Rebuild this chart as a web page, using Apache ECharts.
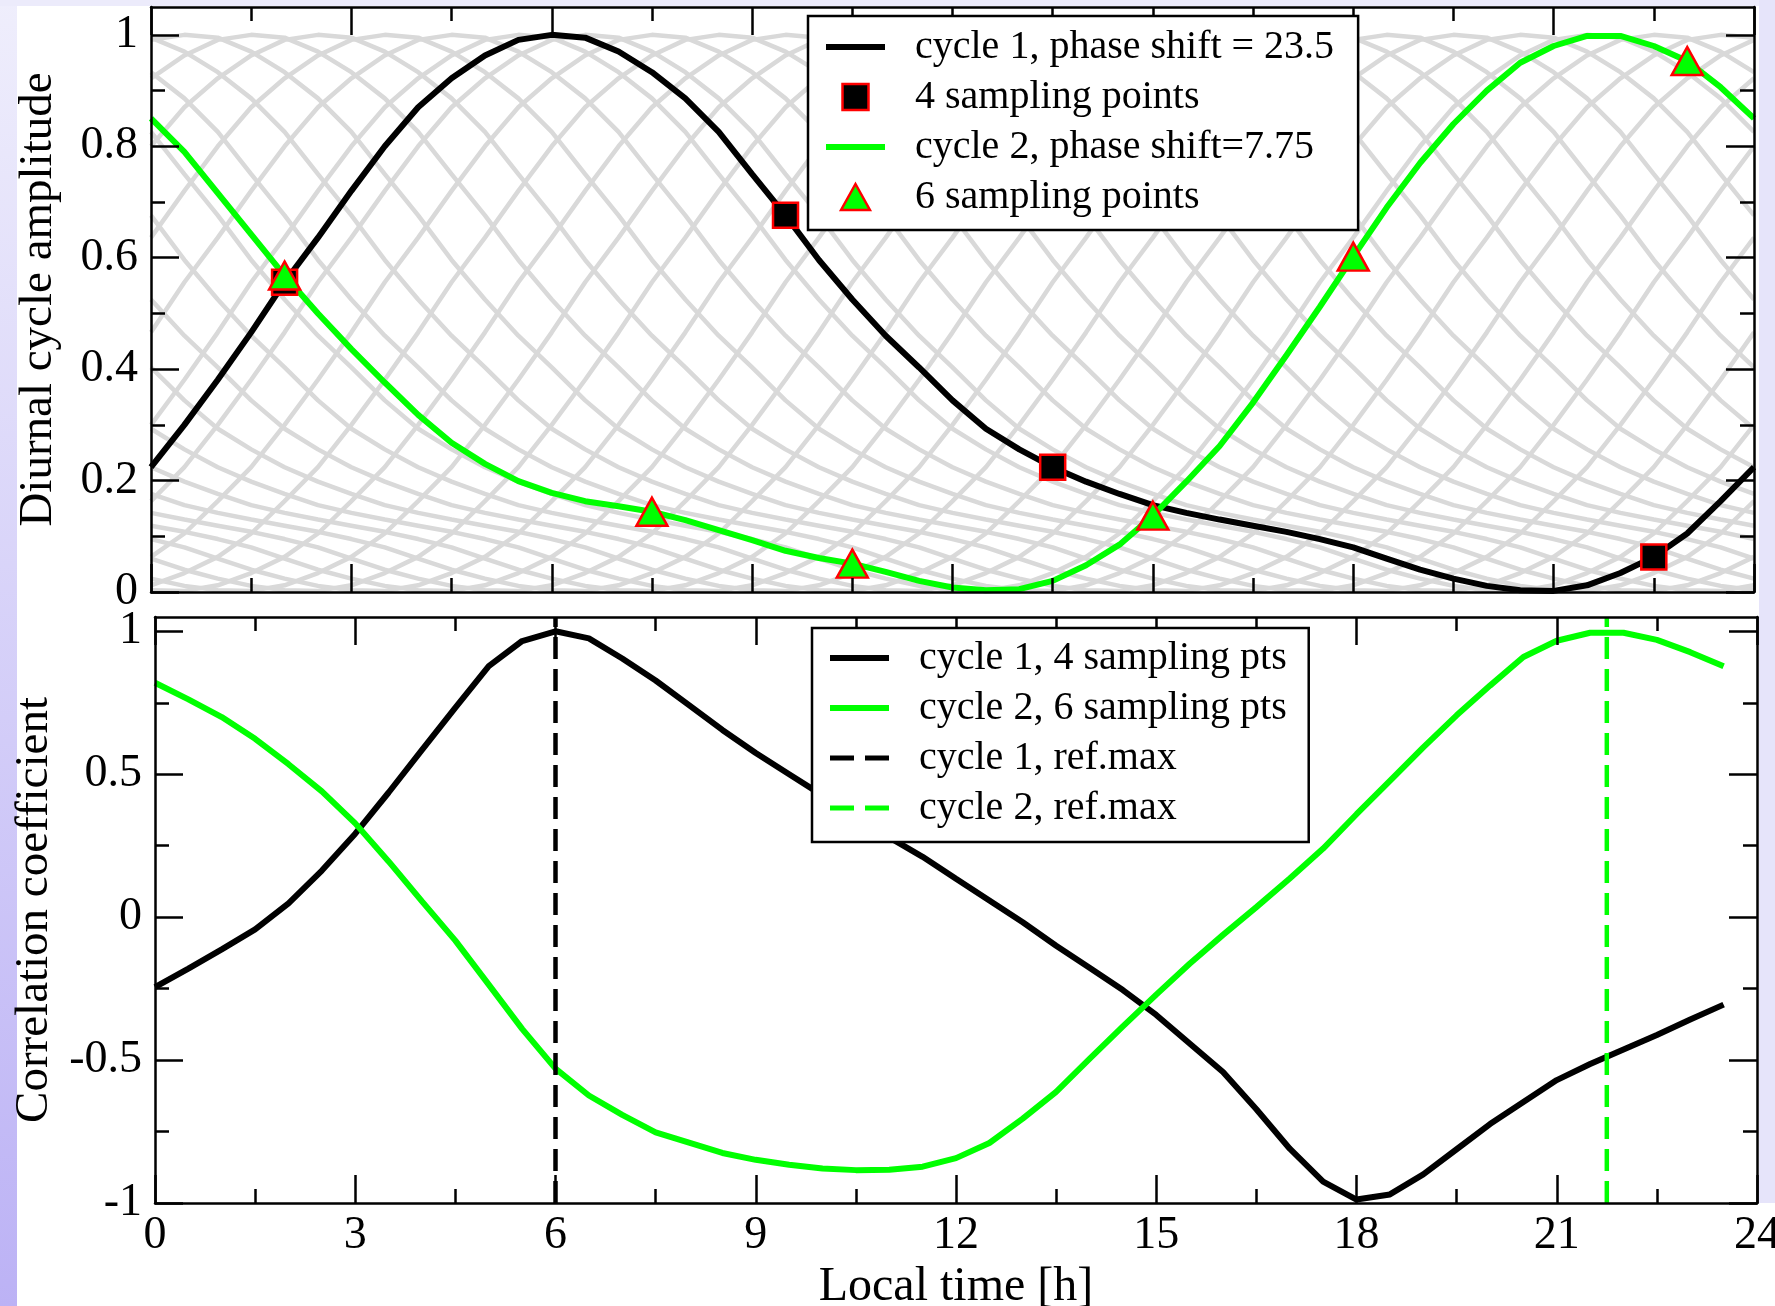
<!DOCTYPE html>
<html>
<head>
<meta charset="utf-8">
<script src="https://cdn.jsdelivr.net/npm/echarts@6/dist/echarts.min.js"></script>
<style>
  html, body { margin: 0; padding: 0; background: #fff; }
  #chart { width: 1775px; height: 1306px; }
</style>
</head>
<body>
<div id="chart"></div>
<script>
// Local time of the diurnal cycle, half-hour resolution
const hours = [0, 0.5, 1, 1.5, 2, 2.5, 3, 3.5, 4, 4.5, 5, 5.5, 6, 6.5, 7, 7.5, 8, 8.5, 9, 9.5,
  10, 10.5, 11, 11.5, 12, 12.5, 13, 13.5, 14, 14.5, 15, 15.5, 16, 16.5, 17, 17.5, 18, 18.5, 19, 19.5,
  20, 20.5, 21, 21.5, 22, 22.5, 23, 23.5, 24];

// Normalised amplitude of cycle 1 (phase shift 23.5)
const amp1 = [0.224, 0.300, 0.381, 0.466, 0.556, 0.636, 0.720, 0.800, 0.870, 0.922, 0.963, 0.991,
  1.000, 0.995, 0.970, 0.933, 0.886, 0.826, 0.750, 0.676, 0.596, 0.525, 0.460, 0.403, 0.344, 0.293,
  0.256, 0.224, 0.198, 0.176, 0.156, 0.142, 0.130, 0.119, 0.108, 0.095, 0.080, 0.060, 0.040, 0.024,
  0.011, 0.003, 0.002, 0.012, 0.034, 0.063, 0.105, 0.163, 0.224];

// Normalised amplitude of cycle 2 (phase shift 7.75)
const amp2 = [0.850, 0.790, 0.716, 0.642, 0.568, 0.500, 0.436, 0.376, 0.318, 0.268, 0.230, 0.199,
  0.178, 0.163, 0.154, 0.144, 0.129, 0.111, 0.093, 0.074, 0.061, 0.051, 0.036, 0.020, 0.008, 0.003,
  0.005, 0.020, 0.048, 0.085, 0.137, 0.198, 0.262, 0.340, 0.425, 0.512, 0.602, 0.690, 0.770, 0.840,
  0.900, 0.950, 0.980, 0.998, 0.998, 0.980, 0.953, 0.906, 0.850];

// Sampling times (local hour) of the two observing schemes
const sample4Hours = [2, 9.5, 13.5, 22.5];
const sample6Hours = [2, 7.5, 10.5, 15, 18, 23];

// Phase offsets (h) of the background family of cycle-1 shapes
const meshShifts = [0.5, 1.5, 2.5, 3.5, 4.5, 5.5, 6.5, 7.5, 8.5, 9.5, 10.5, 11.5,
  12.5, 13.5, 14.5, 15.5, 16.5, 17.5, 18.5, 19.5, 20.5, 21.5, 22.5, 23.5];

// Correlation of the sampled cycles with the reference, per local-time offset
const corrHours = [0, 0.5, 1, 1.5, 2, 2.5, 3, 3.5, 4, 4.5, 5, 5.5, 6, 6.5, 7, 7.5, 8, 8.5, 9, 9.5,
  10, 10.5, 11, 11.5, 12, 12.5, 13, 13.5, 14, 14.5, 15, 15.5, 16, 16.5, 17, 17.5, 18, 18.5, 19, 19.5,
  20, 20.5, 21, 21.5, 22, 22.5, 23, 23.5];
const corr1 = [-0.245, -0.180, -0.113, -0.043, 0.048, 0.163, 0.292, 0.436, 0.585, 0.733, 0.878, 0.966,
  1.000, 0.975, 0.905, 0.828, 0.742, 0.655, 0.574, 0.500, 0.426, 0.353, 0.279, 0.211, 0.134, 0.058,
  -0.018, -0.100, -0.177, -0.255, -0.342, -0.442, -0.542, -0.672, -0.810, -0.925, -0.988, -0.970,
  -0.900, -0.812, -0.724, -0.647, -0.570, -0.514, -0.463, -0.412, -0.358, -0.306];
const corr2 = [0.820, 0.762, 0.700, 0.624, 0.535, 0.440, 0.328, 0.195, 0.055, -0.082, -0.236, -0.391,
  -0.530, -0.624, -0.692, -0.753, -0.789, -0.825, -0.849, -0.866, -0.879, -0.885, -0.884, -0.873,
  -0.843, -0.790, -0.705, -0.611, -0.496, -0.382, -0.271, -0.163, -0.062, 0.035, 0.135, 0.240,
  0.360, 0.477, 0.594, 0.706, 0.810, 0.910, 0.967, 0.995, 0.995, 0.970, 0.927, 0.878];

// Times of the reference maxima
const refMax1 = 6;
const refMax2 = 21.75;

// Tick positions
const timeTicks = [0, 3, 6, 9, 12, 15, 18, 21, 24];
const timeMinorTicks = [1.5, 4.5, 7.5, 10.5, 13.5, 16.5, 19.5, 22.5];
const ampTicks = [0, 0.2, 0.4, 0.6, 0.8, 1];
const ampMinorTicks = [0.1, 0.3, 0.5, 0.7, 0.9];
const corrTicks = [-1, -0.5, 0, 0.5, 1];
const corrMinorTicks = [-0.75, -0.25, 0.25, 0.75];

const FONT = '"Liberation Serif", "Times New Roman", serif';
const GREEN = '#00ff00';
const RED = '#ff0000';
const frameLine = { color: '#000', width: 2.5 };

function pairs(xs, ys) { return xs.map((x, i) => [x, ys[i]]); }
function pick(xs, ys, at) { return at.map(h => [h, ys[xs.indexOf(h)]]); }

// One framed edge of a panel: axis line plus inward ticks
function edge(grid, position, range, ticks, len, showLine, extra) {
  return Object.assign({
    type: 'value', gridIndex: grid, position: position, min: range[0], max: range[1],
    axisLine: { show: showLine, onZero: false, lineStyle: frameLine },
    axisTick: { show: true, inside: true, length: len, customValues: ticks, lineStyle: frameLine },
    axisLabel: { show: false },
    splitLine: { show: false },
    minorTick: { show: false },
    z: 5, silent: true
  }, extra || {});
}

const TIME = [0, 24];
const AMP = [0, 1.05];
const CORR = [-1, 1.05];
const MAJ = 28, MIN = 14;
const labelStyle = { fontSize: 46, fontFamily: FONT, color: '#000' };
const nameStyle = { fontSize: 47, fontFamily: FONT, color: '#000' };

const xAxes = [
  edge(0, 'bottom', TIME, timeTicks, MAJ, true),
  edge(0, 'bottom', TIME, timeMinorTicks, MIN, false),
  edge(0, 'top', TIME, timeTicks, MAJ, true),
  edge(0, 'top', TIME, timeMinorTicks, MIN, false),
  edge(1, 'bottom', TIME, timeTicks, MAJ, true, {
    axisLabel: Object.assign({ show: true, customValues: timeTicks, margin: 10 }, labelStyle),
    name: 'Local time [h]', nameLocation: 'middle', nameGap: 60,
    nameTextStyle: Object.assign({}, nameStyle, { fontSize: 48 })
  }),
  edge(1, 'bottom', TIME, timeMinorTicks, MIN, false),
  edge(1, 'top', TIME, timeTicks, MAJ, true),
  edge(1, 'top', TIME, timeMinorTicks, MIN, false)
];

const yAxes = [
  edge(0, 'left', AMP, ampTicks, MAJ, true, {
    axisLabel: Object.assign({ show: true, customValues: ampTicks, margin: 13 }, labelStyle),
    name: 'Diurnal cycle amplitude', nameLocation: 'middle', nameGap: 89, nameTextStyle: nameStyle
  }),
  edge(0, 'left', AMP, ampMinorTicks, MIN, false),
  edge(0, 'right', AMP, ampTicks, MAJ, true),
  edge(0, 'right', AMP, ampMinorTicks, MIN, false),
  edge(1, 'left', CORR, corrTicks, MAJ, true, {
    axisLabel: Object.assign({ show: true, customValues: corrTicks, margin: 13 }, labelStyle),
    name: 'Correlation coefficient', nameLocation: 'middle', nameGap: 91, nameTextStyle: nameStyle
  }),
  edge(1, 'left', CORR, corrMinorTicks, MIN, false),
  edge(1, 'right', CORR, corrTicks, MAJ, true),
  edge(1, 'right', CORR, corrMinorTicks, MIN, false)
];

// Background family: cycle 1 shape moved around the day (half-hour samples per step)
const meshSeries = meshShifts.map(s => ({
  type: 'line', xAxisIndex: 0, yAxisIndex: 0,
  data: hours.map((h, i) => [h, amp1[((i - 2 * s) % 48 + 48) % 48]]),
  symbol: 'none', silent: true, z: 1,
  lineStyle: { color: '#d9d9d9', width: 4.5 },
  itemStyle: { color: '#d9d9d9' }
}));

const lineIcon = 'path://M0,0H59V6H0Z';
const dashIcon = 'path://M0,0H24V5H0Z M35,0H59V5H35Z';
const squareIcon = 'path://M0,0H10V10H0Z';
const triangleIcon = 'path://M5,0L10,9L0,9Z';

const legendText = {
  fontSize: 40, fontFamily: FONT, color: '#000', lineHeight: 50, padding: [0, 0, 0, 25]
};
const legendBox = {
  orient: 'vertical', itemWidth: 59, itemHeight: 26, itemGap: 0,
  backgroundColor: '#fff', borderColor: '#000', borderWidth: 2.5,
  selectedMode: false, z: 10, textStyle: legendText
};
const solidKey = c => ({ color: c, borderWidth: 0, opacity: 1 });
const markKey = c => ({ color: c, borderColor: RED, borderWidth: 2.5, opacity: 1 });

const option = {
  animation: false,
  backgroundColor: '#fff',
  grid: [
    { left: 151, right: 21, top: 7, height: 585, outerBoundsMode: 'none', containLabel: false },
    { left: 155, right: 18, top: 617, height: 586, outerBoundsMode: 'none', containLabel: false }
  ],
  xAxis: xAxes,
  yAxis: yAxes,
  legend: [
    Object.assign({}, legendBox, {
      left: 808, top: 16, padding: [6, 24, 8, 18],
      data: [
        { name: 'cycle 1, phase shift = 23.5', icon: lineIcon, itemStyle: solidKey('#000') },
        { name: '4 sampling points', icon: squareIcon, itemStyle: markKey('#000') },
        { name: 'cycle 2, phase shift=7.75', icon: lineIcon, itemStyle: solidKey(GREEN) },
        { name: '6 sampling points', icon: triangleIcon, itemStyle: markKey(GREEN) }
      ]
    }),
    Object.assign({}, legendBox, {
      left: 812, top: 628, padding: [5, 22, 9, 18],
      data: [
        { name: 'cycle 1, 4 sampling pts', icon: lineIcon, itemStyle: solidKey('#000') },
        { name: 'cycle 2, 6 sampling pts', icon: lineIcon, itemStyle: solidKey(GREEN) },
        { name: 'cycle 1, ref.max', icon: dashIcon, itemStyle: solidKey('#000') },
        { name: 'cycle 2, ref.max', icon: dashIcon, itemStyle: solidKey(GREEN) }
      ]
    })
  ],
  graphic: [
    { type: 'rect', silent: true, z: -10,
      shape: { x: 0, y: 0, width: 17, height: 1306 },
      style: { fill: new echarts.graphic.LinearGradient(0, 0, 0, 1, [
        { offset: 0, color: '#efeefc' }, { offset: 1, color: '#bcb2f5' }]) } },
    { type: 'rect', silent: true, z: -10,
      shape: { x: 0, y: 0, width: 1775, height: 6 },
      style: { fill: '#ecebfb' } },
    { type: 'rect', silent: true, z: -10,
      shape: { x: 1759, y: 0, width: 16, height: 1203 },
      style: { fill: '#e6e4fa' } }
  ],
  series: meshSeries.concat([
    {
      name: 'cycle 1, phase shift = 23.5', type: 'line', xAxisIndex: 0, yAxisIndex: 0,
      data: pairs(hours, amp1), symbol: 'none', z: 3,
      lineStyle: { color: '#000', width: 6 }, itemStyle: { color: '#000' }
    },
    {
      name: 'cycle 2, phase shift=7.75', type: 'line', xAxisIndex: 0, yAxisIndex: 0,
      data: pairs(hours, amp2), symbol: 'none', z: 3,
      lineStyle: { color: GREEN, width: 6 }, itemStyle: { color: GREEN }
    },
    {
      name: '4 sampling points', type: 'scatter', xAxisIndex: 0, yAxisIndex: 0,
      data: pick(hours, amp1, sample4Hours), symbol: 'rect', symbolSize: 25, z: 4,
      itemStyle: { color: '#000', borderColor: RED, borderWidth: 2.5, opacity: 1 }
    },
    {
      name: '6 sampling points', type: 'scatter', xAxisIndex: 0, yAxisIndex: 0,
      data: pick(hours, amp2, sample6Hours), symbol: 'triangle', symbolSize: [31, 28], z: 4,
      itemStyle: { color: GREEN, borderColor: RED, borderWidth: 2.5, opacity: 1 }
    },
    {
      name: 'cycle 1, 4 sampling pts', type: 'line', xAxisIndex: 4, yAxisIndex: 4,
      data: pairs(corrHours, corr1), symbol: 'none', z: 3,
      lineStyle: { color: '#000', width: 6 }, itemStyle: { color: '#000' }
    },
    {
      name: 'cycle 2, 6 sampling pts', type: 'line', xAxisIndex: 4, yAxisIndex: 4,
      data: pairs(corrHours, corr2), symbol: 'none', z: 3,
      lineStyle: { color: GREEN, width: 6 }, itemStyle: { color: GREEN }
    },
    {
      name: 'cycle 1, ref.max', type: 'line', xAxisIndex: 4, yAxisIndex: 4,
      data: [[refMax1, CORR[0]], [refMax1, CORR[1]]], symbol: 'none', z: 4,
      lineStyle: { color: '#000', width: 4.5, type: [22, 10] }, itemStyle: { color: '#000' }
    },
    {
      name: 'cycle 2, ref.max', type: 'line', xAxisIndex: 4, yAxisIndex: 4,
      data: [[refMax2, CORR[0]], [refMax2, CORR[1]]], symbol: 'none', z: 4,
      lineStyle: { color: GREEN, width: 4.5, type: [22, 10] }, itemStyle: { color: GREEN }
    }
  ])
};

const chart = echarts.init(document.getElementById('chart'), null, { renderer: 'canvas' });
chart.setOption(option);
</script>
</body>
</html>
